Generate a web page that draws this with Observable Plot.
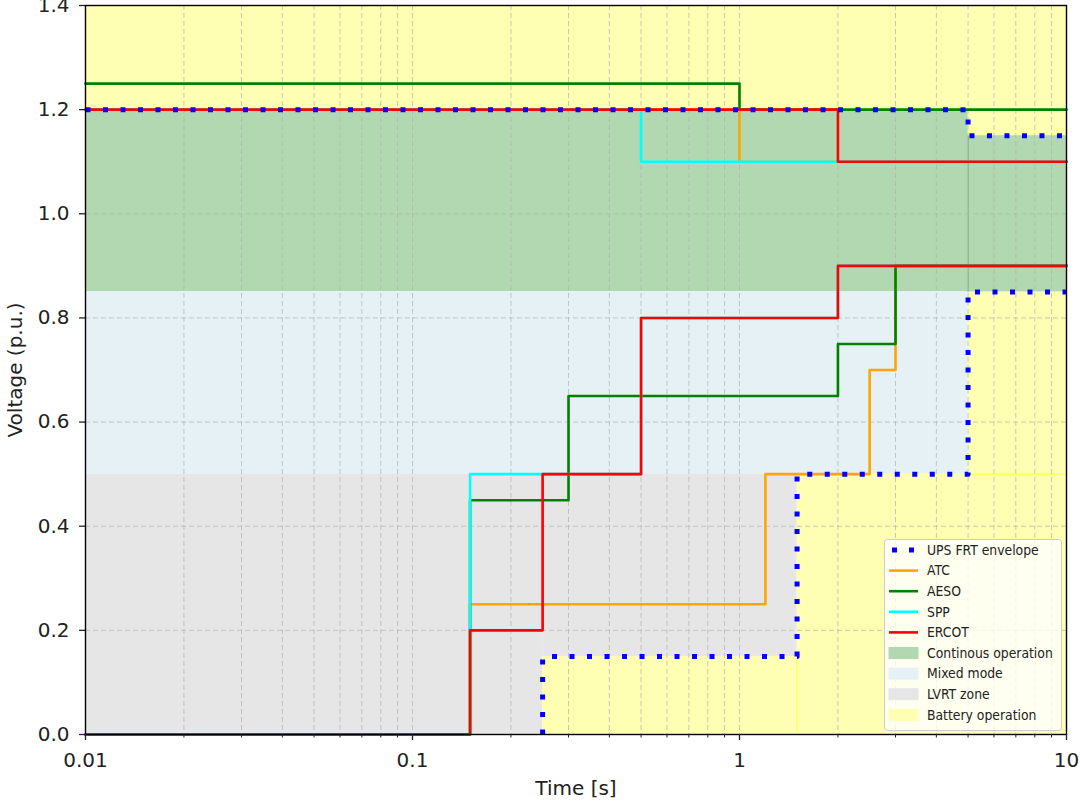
<!DOCTYPE html>
<html><head><meta charset="utf-8">
<script src="https://cdn.jsdelivr.net/npm/d3@7"></script>
<script src="https://cdn.jsdelivr.net/npm/@observablehq/plot@0.6"></script>
<style>
body{margin:0;background:#fff;font-family:"DejaVu Sans",sans-serif}
#wrap{position:relative;width:1080px;height:801px;overflow:hidden}
#wrap svg{display:block}
</style></head><body><div id="wrap"></div>
<script>
// ---- ticks ----
const xMajor = [0.01, 0.1, 1, 10];
const xMajorLabels = ["0.01", "0.1", "1", "10"];
const xMinor = [0.02,0.03,0.04,0.05,0.06,0.07,0.08,0.09,0.2,0.3,0.4,0.5,0.6,0.7,0.8,0.9,2,3,4,5,6,7,8,9];
const yTicks = [0, 0.2, 0.4, 0.6, 0.8, 1.0, 1.2, 1.4];
const yTickLabels = ["0.0", "0.2", "0.4", "0.6", "0.8", "1.0", "1.2", "1.4"];

// ---- series (step-after: time breakpoints, voltage levels) ----
const seriesNames = ["UPS FRT envelope", "ATC", "AESO", "SPP", "ERCOT"];
const seriesColors = ["#0000ff", "#ffa500", "#008000", "#00ffff", "#ff0000"];
const upsUpperT = [0.01, 5, 10],                 upsUpperV = [1.2, 1.15, 1.15];
const upsLowerT = [0.25, 0.25, 1.5, 5, 10],      upsLowerV = [0, 0.15, 0.5, 0.85, 0.85];
const atcUpperT = [0.01, 1, 10],                 atcUpperV = [1.2, 1.1, 1.1];
const atcLowerT = [0.01, 0.15, 1.2, 2.5, 3, 10], atcLowerV = [0, 0.25, 0.5, 0.7, 0.9, 0.9];
const aesoUpperT = [0.01, 1, 10],                aesoUpperV = [1.25, 1.2, 1.2];
const aesoLowerT = [0.01, 0.15, 0.3, 2, 3, 10],  aesoLowerV = [0, 0.45, 0.65, 0.75, 0.9, 0.9];
const sppUpperT = [0.01, 0.5, 10],               sppUpperV = [1.2, 1.1, 1.1];
const sppLowerT = [0.01, 0.15, 0.5, 2, 10],      sppLowerV = [0, 0.5, 0.8, 0.9, 0.9];
const ercotUpperT = [0.01, 2, 10],               ercotUpperV = [1.2, 1.1, 1.1];
const ercotLowerT = [0.01, 0.15, 0.25, 0.5, 2, 10], ercotLowerV = [0, 0.2, 0.5, 0.8, 0.9, 0.9];

// ---- operating zones ----
const zoneNames = ["Continous operation", "Mixed mode", "LVRT zone", "Battery operation"];
const zoneColors = ["#b2d8b2", "#e5f1f5", "#e6e6e6", "#ffffb3"];
const zoneKey = [3, 3, 3, 3, 3, 0, 0, 1, 2, 2];
const zoneT1  = [0.01, 5, 0.25, 1.5, 5, 0.01, 5, 0.01, 0.01, 0.25];
const zoneT2  = [5, 10, 1.5, 5, 10, 5, 10, 5, 0.25, 1.5];
const zoneV1  = [1.2, 1.15, 0, 0, 0, 0.85, 0.85, 0.5, 0, 0.15];
const zoneV2  = [1.4, 1.4, 0.15, 0.5, 0.85, 1.2, 1.15, 0.85, 0.5, 0.5];
// fill edges
const edgeKey = [3, 3, 0];
const edgeT1 = [1.5, 5, 5], edgeT2 = [1.5, 10, 5];
const edgeV1 = [0, 0.5, 0.85], edgeV2 = [0.15, 0.5, 1.15];

const steps = (t, v) => t.map((x, i) => ({t: x, v: v[i]}));
const zones = zoneKey.map((k, i) => ({k, t1: zoneT1[i], t2: zoneT2[i], v1: zoneV1[i], v2: zoneV2[i]}));
const edges = edgeKey.map((k, i) => ({k, t1: edgeT1[i], t2: edgeT2[i], v1: edgeV1[i], v2: edgeV2[i]}));
const edgeColors = ["rgba(0,128,0,0.3)", "", "", "#ffff66"];

const lineOpts = (c) => ({x: "t", y: "v", curve: "step-after", stroke: c, strokeWidth: 2.6});
const seriesLines = [
  [atcUpperT, atcUpperV, atcLowerT, atcLowerV, seriesColors[1]],
  [aesoUpperT, aesoUpperV, aesoLowerT, aesoLowerV, seriesColors[2]],
  [sppUpperT, sppUpperV, sppLowerT, sppLowerV, seriesColors[3]],
  [ercotUpperT, ercotUpperV, ercotLowerT, ercotLowerV, seriesColors[4]]
].flatMap(([ut, uv, lt, lv, c]) => [
  Plot.line(steps(ut, uv), lineOpts(c)),
  Plot.line(steps(lt, lv), lineOpts(c))
]);
const upsOpts = {x: "t", y: "v", curve: "step-after", stroke: seriesColors[0], strokeWidth: 5, strokeDasharray: "5,12.5", strokeLinecap: "butt"};

const chart = Plot.plot({
  width: 1080, height: 801,
  marginLeft: 85, marginRight: 14, marginTop: 5, marginBottom: 67,
  x: {type: "log", domain: [0.01, 10]},
  y: {domain: [0, 1.4]},
  style: {fontFamily: "DejaVu Sans", fontSize: "20px", color: "#222", background: "white", overflow: "visible"},
  marks: [
    Plot.rect(zones, {x1: "t1", x2: "t2", y1: "v1", y2: "v2", fill: d => zoneColors[d.k]}),
    Plot.link(edges, {x1: "t1", x2: "t2", y1: "v1", y2: "v2", stroke: d => edgeColors[d.k], strokeWidth: 1.5}),
    Plot.gridX({ticks: xMajor.concat(xMinor), stroke: "#b0b0b0", strokeOpacity: 0.7, strokeWidth: 1, strokeDasharray: "5,3"}),
    Plot.gridY({ticks: yTicks, stroke: "#b0b0b0", strokeOpacity: 0.7, strokeWidth: 1, strokeDasharray: "5,3"}),
    ...seriesLines,
    Plot.line(steps(upsUpperT, upsUpperV), upsOpts),
    Plot.line(steps(upsLowerT, upsLowerV), upsOpts),
    Plot.frame({stroke: "black", strokeWidth: 1.4}),
    Plot.axisX({ticks: xMajor, tickFormat: d => xMajorLabels[xMajor.indexOf(d)], tickSize: 6, tickPadding: 12, label: null, fontSize: 20, strokeWidth: 1.3}),
    Plot.axisX({ticks: xMinor, tickFormat: () => "", tickSize: 3.5, label: null, strokeWidth: 1}),
    Plot.axisY({ticks: yTicks, tickFormat: d => yTickLabels[yTicks.indexOf(d)], tickSize: 6, tickPadding: 10, label: null, fontSize: 20, strokeWidth: 1.3}),
    Plot.text(["Time [s]"], {frameAnchor: "bottom", dy: 54, fontSize: 20, fill: "#222", textAnchor: "middle", lineAnchor: "middle"}),
    Plot.text(["Voltage (p.u.)"], {frameAnchor: "left", dx: -70, rotate: -90, fontSize: 20, fill: "#222", textAnchor: "middle", lineAnchor: "middle"})
  ]
});
const wrap = document.getElementById("wrap");
wrap.appendChild(chart);

// ---- legend ----
const leg = d3.select(wrap).append("svg")
  .attr("width", 1080).attr("height", 801)
  .style("position", "absolute").style("left", 0).style("top", 0);
const g = leg.append("g").attr("transform", "translate(884,539)");
g.append("rect").attr("x", 0.5).attr("y", 0.5).attr("width", 177).attr("height", 191).attr("rx", 3)
  .attr("fill", "white").attr("fill-opacity", 0.8).attr("stroke", "#cccccc");
const items = seriesNames.map((n, i) => ({n, type: i === 0 ? "dots" : "line", c: seriesColors[i]}))
  .concat(zoneNames.map((n, i) => ({n, type: "patch", c: zoneColors[i]})));
items.forEach((it, i) => {
  const cy = 11 + i * 20.6;
  if (it.type === "dots") {
    g.append("rect").attr("x", 8).attr("y", cy - 2.5).attr("width", 5).attr("height", 5).attr("fill", it.c);
    g.append("rect").attr("x", 25).attr("y", cy - 2.5).attr("width", 5).attr("height", 5).attr("fill", it.c);
  } else if (it.type === "line") {
    g.append("line").attr("x1", 5).attr("x2", 34).attr("y1", cy).attr("y2", cy).attr("stroke", it.c).attr("stroke-width", 2.6);
  } else {
    g.append("rect").attr("x", 5).attr("y", cy - 5.5).attr("width", 29).attr("height", 11)
      .attr("fill", it.c).attr("stroke", it.c).attr("stroke-width", 1);
  }
  g.append("text").attr("x", 43).attr("y", cy).attr("dy", "0.35em")
    .attr("font-family", "'DejaVu Sans Condensed','DejaVu Sans',sans-serif").attr("font-size", 13.8)
    .attr("fill", "#222").text(it.n);
});
</script>
</body></html>
